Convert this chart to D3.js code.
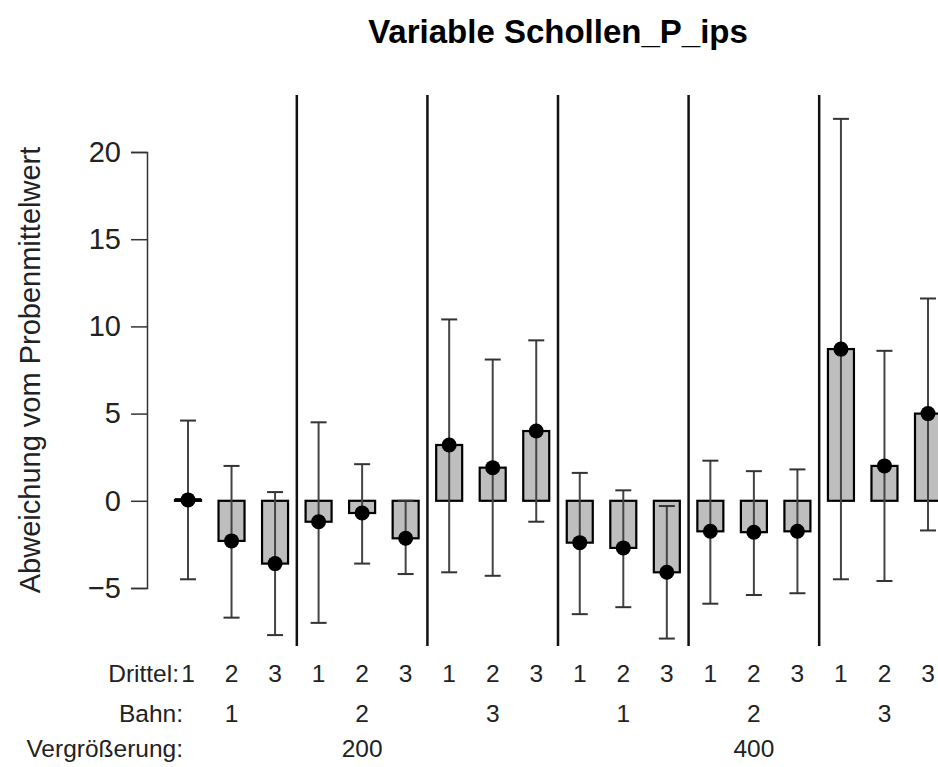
<!DOCTYPE html>
<html>
<head>
<meta charset="utf-8">
<script src="https://cdn.jsdelivr.net/npm/d3@7"></script>
<style>
body{margin:0;background:#fff;}
svg{display:block;font-family:"Liberation Sans",Arial,sans-serif;}
</style>
</head>
<body>
<div id="chart"></div>
<script>
// values
var vergr=["200","400"];
var bahnen=["1","2","3"];
var drittel=["1","2","3"];
var means=[0.05,-2.3,-3.6, -1.2,-0.7,-2.15, 3.2,1.9,4.0, -2.4,-2.7,-4.1, -1.75,-1.8,-1.75, 8.7,2.0,5.0];
var lower=[-4.5,-6.7,-7.7, -7.0,-3.6,-4.2, -4.1,-4.3,-1.2, -6.5,-6.1,-7.9, -5.9,-5.4,-5.3, -4.5,-4.6,-1.7];
var upper=[4.6,2.0,0.5, 4.5,2.1,0.0, 10.4,8.1,9.2, 1.6,0.6,-0.3, 2.3,1.7,1.8, 21.9,8.6,11.6];
var yTicks=[-5,0,5,10,15,20];

var W=938,H=767;
var svg=d3.select("#chart").append("svg").attr("width",W).attr("height",H);

var x=d3.scaleLinear().domain([0,17]).range([188,928]);
var y=d3.scaleLinear().domain([-5,20]).range([588,152]);
var barW=26;

svg.append("text")
	.attr("x",558).attr("y",43)
	.attr("text-anchor","middle")
	.attr("font-size",33).attr("font-weight","bold")
	.text("Variable Schollen_P_ips");

// y axis
var yAxis=svg.append("g")
	.attr("transform","translate(147,0)")
	.call(d3.axisLeft(y).tickValues(yTicks).tickSize(16).tickPadding(10).tickFormat(function(d){return d<0?"\u2212"+(-d):d;}));
yAxis.select(".domain").attr("stroke","#333").attr("stroke-width",1.5);
yAxis.selectAll(".tick line").attr("stroke","#333").attr("stroke-width",1.5);
yAxis.selectAll(".tick text").attr("font-size",29).attr("fill","#222").attr("font-family","Liberation Sans,Arial,sans-serif");

svg.append("text")
	.attr("transform","translate(40,370) rotate(-90)")
	.attr("text-anchor","middle")
	.attr("font-size",29).attr("fill","#222")
	.text("Abweichung vom Probenmittelwert");

// group separators
var seps=[2.5,5.5,8.5,11.5,14.5];
svg.selectAll(".sep").data(seps).enter().append("line")
	.attr("x1",function(d){return x(d);}).attr("x2",function(d){return x(d);})
	.attr("y1",95).attr("y2",646)
	.attr("stroke","#111").attr("stroke-width",2.5);

// bars
svg.selectAll(".bar").data(means).enter().append("rect")
	.attr("x",function(d,i){return x(i)-barW/2;})
	.attr("y",function(d){return y(Math.max(d,0));})
	.attr("width",barW)
	.attr("height",function(d){return Math.abs(y(d)-y(0));})
	.attr("fill","#bebebe").attr("stroke","#000").attr("stroke-width",2.2);

// error bars
var eb=svg.selectAll(".eb").data(means).enter().append("g");
eb.append("line")
	.attr("x1",function(d,i){return x(i);}).attr("x2",function(d,i){return x(i);})
	.attr("y1",function(d,i){return y(lower[i]);}).attr("y2",function(d,i){return y(upper[i]);})
	.attr("stroke","#444").attr("stroke-width",2);
eb.append("line")
	.attr("x1",function(d,i){return x(i)-8;}).attr("x2",function(d,i){return x(i)+8;})
	.attr("y1",function(d,i){return y(upper[i]);}).attr("y2",function(d,i){return y(upper[i]);})
	.attr("stroke","#333").attr("stroke-width",2);
eb.append("line")
	.attr("x1",function(d,i){return x(i)-8;}).attr("x2",function(d,i){return x(i)+8;})
	.attr("y1",function(d,i){return y(lower[i]);}).attr("y2",function(d,i){return y(lower[i]);})
	.attr("stroke","#333").attr("stroke-width",2);

// means
svg.selectAll(".pt").data(means).enter().append("circle")
	.attr("cx",function(d,i){return x(i);})
	.attr("cy",function(d){return y(d);})
	.attr("r",7.5).attr("fill","#000");

// first bar is zero height: short line
svg.append("line")
	.attr("x1",x(0)-barW/2).attr("x2",x(0)+barW/2)
	.attr("y1",y(means[0])).attr("y2",y(means[0]))
	.attr("stroke","#000").attr("stroke-width",3.5);

// category labels
var lab=svg.append("g").attr("font-size",24.5).attr("fill","#222");
var dIdx=d3.range(18);
lab.selectAll(".d").data(dIdx).enter().append("text")
	.attr("x",function(i){return x(i);}).attr("y",682)
	.attr("text-anchor","middle")
	.text(function(i){return drittel[i%3];});
lab.selectAll(".b").data(d3.range(6)).enter().append("text")
	.attr("x",function(j){return x(j*3+1);}).attr("y",722)
	.attr("text-anchor","middle")
	.text(function(j){return bahnen[j%3];});
lab.selectAll(".v").data(vergr).enter().append("text")
	.attr("x",function(d,k){return x(k*9+4);}).attr("y",757)
	.attr("text-anchor","middle")
	.text(function(d){return d;});
var rowNames=["Drittel:","Bahn:","Vergrößerung:"];
var rowY=[682,722,757];
lab.selectAll(".rn").data(rowNames).enter().append("text")
	.attr("x",function(d,k){return k==0?179:183;}).attr("y",function(d,k){return rowY[k];})
	.attr("text-anchor","end")
	.text(function(d){return d;});
</script>
</body>
</html>
